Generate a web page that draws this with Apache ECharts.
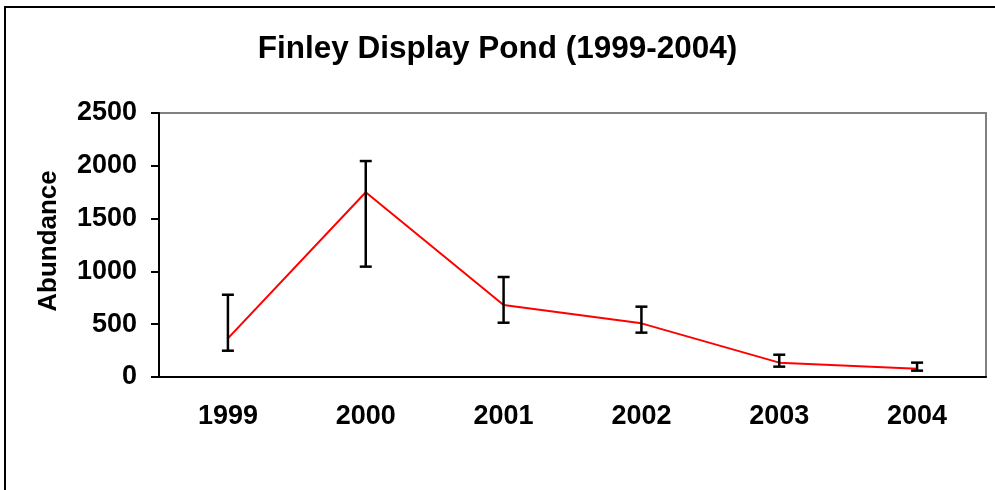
<!DOCTYPE html>
<html>
<head>
<meta charset="utf-8">
<script src="https://cdn.jsdelivr.net/npm/echarts@6/dist/echarts.min.js"></script>
<style>
  html, body { margin: 0; padding: 0; background: #fff; }
  #chart { width: 995px; height: 490px; }
</style>
</head>
<body>
<div id="chart"></div>
<script>
const years = ['1999', '2000', '2001', '2002', '2003', '2004']
const abundance = [366, 1750, 682, 508, 136, 79]
const errLow = [249, 1045, 514, 420, 98, 60]
const errHigh = [779, 2045, 947, 666, 211, 136]
const yTicks = [0, 500, 1000, 1500, 2000, 2500]

const FONT = '"Liberation Sans", Arial, sans-serif'
const chart = echarts.init(document.getElementById('chart'))

chart.setOption({
  animation: false,
  backgroundColor: '#fff',
  title: {
    text: 'Finley Display Pond (1999-2004)',
    left: 'center',
    top: 28,
    textStyle: { fontFamily: FONT, fontWeight: 'bold', fontSize: 31.5, color: '#000' },
  },
  graphic: [
    {
      type: 'rect',
      shape: { x: 5, y: 7, width: 1000, height: 500 },
      style: { fill: 'none', stroke: '#000', lineWidth: 2 },
      silent: true,
    },
  ],
  grid: {
    left: 159,
    top: 113,
    right: 9,
    bottom: 113,
    show: true,
    borderColor: '#808080',
    borderWidth: 2,
  },
  xAxis: {
    type: 'category',
    data: years,
    boundaryGap: true,
    axisLine: { lineStyle: { color: '#000', width: 2 } },
    axisTick: { length: 8, lineStyle: { color: '#000', width: 2 } },
    axisLabel: { color: '#000', fontFamily: FONT, fontWeight: 'bold', fontSize: 27, margin: 26 },
    splitLine: { show: false },
  },
  yAxis: {
    type: 'value',
    min: yTicks[0],
    max: yTicks[yTicks.length - 1],
    interval: 500,
    name: 'Abundance',
    nameLocation: 'middle',
    nameGap: 97,
    nameTextStyle: {
      color: '#000',
      fontFamily: FONT,
      fontWeight: 'bold',
      fontSize: 26,
      padding: [0, 0, 0, 8],
    },
    axisLine: { show: true, lineStyle: { color: '#000', width: 2 } },
    axisTick: { show: true, length: 8, lineStyle: { color: '#000', width: 2 } },
    axisLabel: {
      color: '#000',
      fontFamily: FONT,
      fontWeight: 'bold',
      fontSize: 27,
      margin: 22,
      formatter: (v) => String(v),
    },
    splitLine: { show: false },
  },
  series: [
    {
      type: 'line',
      data: abundance,
      symbol: 'none',
      lineStyle: { color: '#ff0000', width: 2 },
      z: 2,
    },
    {
      type: 'custom',
      data: years.map((y, i) => [i, errLow[i], errHigh[i]]),
      renderItem: (params, api) => {
        const lo = api.coord([api.value(0), api.value(1)])
        const hi = api.coord([api.value(0), api.value(2)])
        const half = 6
        const style = { stroke: '#000', lineWidth: 2.5 }
        return {
          type: 'group',
          children: [
            { type: 'line', shape: { x1: lo[0], y1: lo[1], x2: hi[0], y2: hi[1] }, style },
            { type: 'line', shape: { x1: hi[0] - half, y1: hi[1], x2: hi[0] + half, y2: hi[1] }, style },
            { type: 'line', shape: { x1: lo[0] - half, y1: lo[1], x2: lo[0] + half, y2: lo[1] }, style },
          ],
        }
      },
      z: 3,
    },
  ],
})
</script>
</body>
</html>
